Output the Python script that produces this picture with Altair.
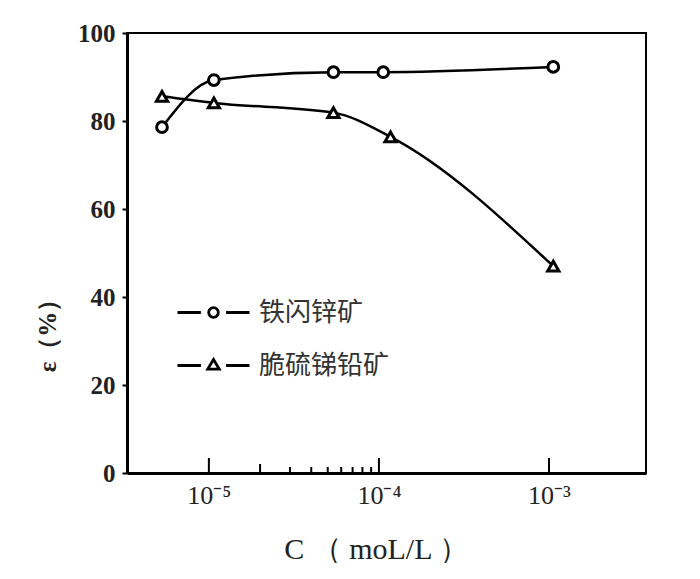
import altair as alt
import pandas as pd

# ---- data ----
series_names = ["铁闪锌矿", "脆硫锑铅矿"]
conc_sph = [5.3e-6, 1.07e-5, 5.4e-5, 1.06e-4, 1.06e-3]
eff_sph = [78.6, 89.3, 91.1, 91.1, 92.3]
conc_jam = [5.3e-6, 1.07e-5, 5.4e-5, 1.17e-4, 1.06e-3]
eff_jam = [85.6, 84.1, 81.9, 76.4, 47.0]

y_tick_values = [0, 20, 40, 60, 80, 100]
x_major_values = [1e-5, 1e-4, 1e-3]
x_major_labels = ["10⁻⁵", "10⁻⁴", "10⁻³"]
x_mid_values = [2e-5]
x_minor_values = [3e-5, 4e-5, 5e-5, 6e-5, 7e-5, 8e-5, 9e-5]

df = pd.DataFrame({
    "c": conc_sph + conc_jam,
    "e": eff_sph + eff_jam,
    "s": [series_names[0]] * len(conc_sph) + [series_names[1]] * len(conc_jam),
})

label_expr = " : ".join(
    f"datum.value == {v} ? '{l}'" for v, l in zip(x_major_values, x_major_labels)
) + " : ''"

X = alt.X(
    "c:Q",
    scale=alt.Scale(type="log", domain=[3.3e-6, 3.72e-3], nice=False),
    axis=alt.Axis(
        values=x_major_values, labelExpr=label_expr, ticks=False, grid=False,
        labelFont="Liberation Serif", labelFontSize=26, labelColor="#222",
        labelPadding=9, domainWidth=3, domainColor="black",
        title="C （ moL/L ）", titleFont="Liberation Serif", titleFontSize=30,
        titleFontWeight="normal", titleColor="#222",
        titleX=249, titleY=76, titleBaseline="middle", titleAnchor="start", titleAlign="center",
    ),
)
Y = alt.Y(
    "e:Q",
    scale=alt.Scale(domain=[0, 100], nice=False),
    axis=alt.Axis(
        values=y_tick_values, grid=False, tickSize=5, tickWidth=2, tickColor="black",
        labelFont="Liberation Serif", labelFontSize=25, labelFontWeight="bold",
        labelColor="#222", labelPadding=7, domainWidth=3, domainColor="black",
        title="ε（%）", titleFont="Liberation Serif", titleFontSize=25,
        titleFontWeight="bold", titleColor="#222", titleAngle=270,
        titleX=-80, titleY=296, titleAlign="center", titleBaseline="middle",
    ),
)

lines = alt.Chart(df).mark_line(
    color="black", strokeWidth=2.5, interpolate="monotone"
).encode(x=X, y=Y, detail="s:N")

circles = alt.Chart(df).transform_filter(
    alt.datum.s == series_names[0]
).mark_point(
    shape="circle", filled=True, fill="white", stroke="black",
    strokeWidth=3, size=115, opacity=1
).encode(x=X, y=Y)

triangles = alt.Chart(df).transform_filter(
    alt.datum.s == series_names[1]
).mark_point(
    shape="triangle-up", filled=True, fill="white", stroke="black",
    strokeWidth=3, size=125, opacity=1
).encode(x=X, y=Y)

major_ticks = alt.Chart(pd.DataFrame({"c": x_major_values})).mark_rule(
    color="black", strokeWidth=2
).encode(x=X, y=alt.value(440), y2=alt.value(425))
mid_ticks = alt.Chart(pd.DataFrame({"c": x_mid_values})).mark_rule(
    color="black", strokeWidth=2
).encode(x=X, y=alt.value(440), y2=alt.value(431))
minor_ticks = alt.Chart(pd.DataFrame({"c": x_minor_values})).mark_rule(
    color="black", strokeWidth=2
).encode(x=X, y=alt.value(440), y2=alt.value(434))

path_circle = ("M-3,0H-1.05M1.05,0H3M0.4,0A0.4,0.4 0 1,1 -0.4,0"
               "A0.4,0.4 0 1,1 0.4,0Z")
path_tri = "M-3,0H-1.05M1.05,0H3M0,-0.5L0.48,0.3L-0.48,0.3Z"

legend_layer = alt.Chart(df).transform_filter("false").mark_point().encode(
    x=X, y=Y,
    shape=alt.Shape(
        "s:N",
        scale=alt.Scale(domain=series_names, range=[path_circle, path_tri]),
        legend=alt.Legend(
            title=None, orient="none", legendX=73, legendY=266,
            direction="vertical", symbolSize=576, symbolStrokeWidth=2.8,
            symbolStrokeColor="black", symbolFillColor="white", symbolOpacity=1,
            labelOffset=32, labelFont="Noto Sans CJK SC", labelFontSize=26,
            labelColor="#333", rowPadding=26, padding=0, labelLimit=0,
        ),
    ),
)

chart = alt.layer(
    lines, major_ticks, mid_ticks, minor_ticks, circles, triangles, legend_layer
).properties(
    width=519, height=440, autosize="none",
    padding={"left": 119, "top": 25, "right": 40, "bottom": 90},
).configure(
    background="white"
).configure_view(
    stroke="black", strokeWidth=2
)

chart.save("out.html", embed_options={"renderer": "svg", "actions": False})
